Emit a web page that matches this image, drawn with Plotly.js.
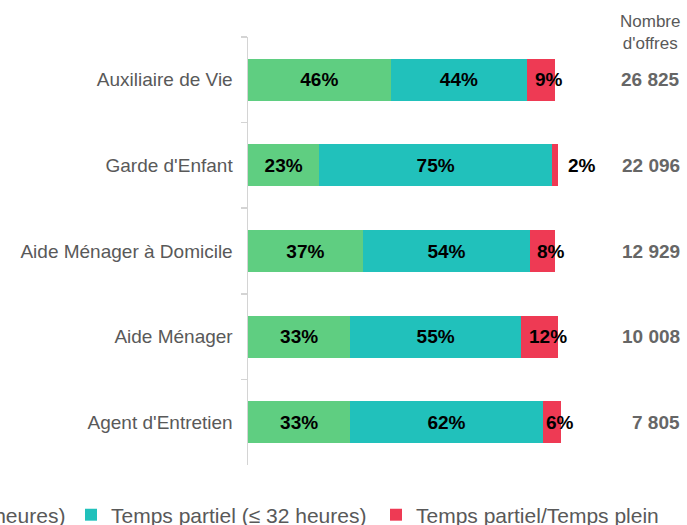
<!DOCTYPE html>
<html>
<head>
<meta charset="utf-8">
<script src="https://cdn.plot.ly/plotly-3.0.1.min.js"></script>
<style>html,body{margin:0;padding:0;background:#fff;}#chart{width:687px;height:525px;}</style>
</head>
<body>
<div id="chart"></div>
<script>
var categories = ["Auxiliaire de Vie", "Garde d'Enfant", "Aide Ménager à Domicile", "Aide Ménager", "Agent d'Entretien"];
var tempsPlein = [46, 23, 37, 33, 33];
var tempsPartiel = [44, 75, 54, 55, 62];
var partielPlein = [9, 2, 8, 12, 6];
var nbOffres = ["26 825", "22 096", "12 929", "10 008", "7 805"];
var seriesNames = ["Temps plein (> 32 heures)", "Temps partiel (≤ 32 heures)", "Temps partiel/Temps plein"];
var colors = ["#5FCE81", "#21C1BB", "#EE3A54"];

var FONT = "Liberation Sans, Arial, sans-serif";
var labelFont = {family: FONT, size: 19, color: "#000000", weight: "bold"};

function pct(v) { return v.map(function (d) { return d + "%"; }); }

var traces = [
  {type: "bar", orientation: "h", name: seriesNames[0], legend: "legend", y: categories, x: tempsPlein,
   marker: {color: colors[0]}, text: pct(tempsPlein), texttemplate: "<b>%{text}</b>", textposition: "inside",
   insidetextanchor: "middle", constraintext: "none", textangle: 0, insidetextfont: labelFont, hoverinfo: "none"},
  {type: "bar", orientation: "h", name: seriesNames[1], legend: "legend2", y: categories, x: tempsPartiel,
   marker: {color: colors[1]}, text: pct(tempsPartiel), texttemplate: "<b>%{text}</b>", textposition: "inside",
   insidetextanchor: "middle", constraintext: "none", textangle: 0, insidetextfont: labelFont, hoverinfo: "none"},
  {type: "bar", orientation: "h", name: seriesNames[2], legend: "legend3", y: categories, x: partielPlein,
   marker: {color: colors[2]}, textposition: "none", hoverinfo: "none"}
];

var annotations = [];
// labels of the third series, placed from the data
categories.forEach(function (c, i) {
  var start = tempsPlein[i] + tempsPartiel[i];
  var small = partielPlein[i] < 4;
  annotations.push({xref: "x", yref: "y", y: c,
    x: small ? start + partielPlein[i] : start + partielPlein[i] / 2,
    xanchor: small ? "left" : "center", xshift: small ? 8 : 8, yanchor: "middle",
    text: "<b>" + partielPlein[i] + "%</b>", showarrow: false, font: labelFont});
});
categories.forEach(function (c, i) {
  annotations.push({xref: "paper", yref: "y", x: (682 - 248) / 352, y: c, xanchor: "right", yanchor: "middle",
          text: "<b>" + nbOffres[i] + "</b>", showarrow: false,
          font: {family: FONT, size: 19, color: "#666666"}});
});
annotations.push({xref: "paper", yref: "paper", x: (650 - 248) / 352, y: 1.0, yshift: 27, xanchor: "center", yanchor: "top",
  text: "Nombre<br>d'offres", showarrow: false, align: "center",
  font: {family: FONT, size: 17, color: "#595959"}});

var legendFont = {family: FONT, size: 21, color: "#595959"};
var legY = -0.069;

var layout = {
  width: 687, height: 525,
  margin: {l: 248, r: 87, t: 37, b: 60, autoexpand: false},
  paper_bgcolor: "#ffffff", plot_bgcolor: "#ffffff",
  barmode: "stack", bargap: 0.51,
  showlegend: true,
  legend: {orientation: "h", x: (71 - 248) / 352, xanchor: "right", y: legY, yanchor: "top", font: legendFont},
  legend2: {orientation: "h", x: (71 - 248) / 352, xanchor: "left", y: legY, yanchor: "top", font: legendFont},
  legend3: {orientation: "h", x: (376 - 248) / 352, xanchor: "left", y: legY, yanchor: "top", font: legendFont},
  xaxis: {range: [0, 113.5], visible: false, showgrid: false, zeroline: false, fixedrange: true},
  yaxis: {type: "category", categoryorder: "array", categoryarray: categories, range: [4.5, -0.5],
          showline: true, linecolor: "#d4d4d4", linewidth: 1.5, ticks: "outside", tickson: "boundaries",
          ticklen: 6, tickcolor: "#d4d4d4", tickwidth: 1.5, showgrid: false, zeroline: false,
          ticklabelstandoff: 10,
          tickfont: {family: FONT, size: 19, color: "#595959"}},
  annotations: annotations,
  font: {family: FONT}
};

Plotly.newPlot("chart", traces, layout, {displayModeBar: false, staticPlot: true});
</script>
</body>
</html>
